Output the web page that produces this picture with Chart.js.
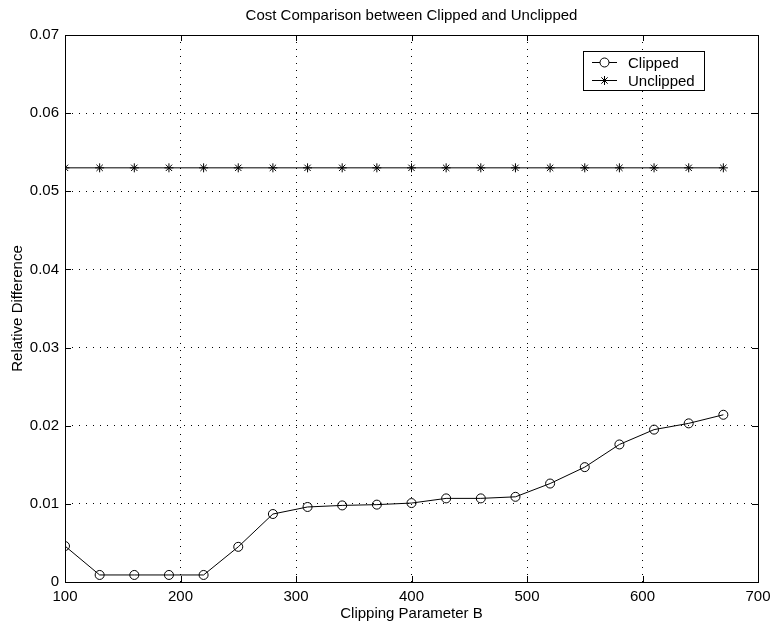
<!DOCTYPE html>
<html>
<head>
<meta charset="utf-8">
<script src="https://cdn.jsdelivr.net/npm/chart.js@4/dist/chart.umd.min.js"></script>
<style>
	html, body { margin: 0; padding: 0; background: #fff; }
	#wrap { width: 772px; height: 621px; }
</style>
</head>
<body>
<div id="wrap"><canvas id="chart"></canvas></div>
<script>
// Clipping parameter B (x)
const bValues = [100, 130, 160, 190, 220, 250, 280, 310, 340, 370, 400, 430, 460, 490, 520, 550, 580, 610, 640, 670];
// Relative difference (y)
const clippedDiff = [0.0046, 0.0009, 0.0009, 0.0009, 0.0009, 0.0045, 0.0087, 0.0096, 0.0098, 0.0099,
	0.0101, 0.0107, 0.0107, 0.0109, 0.0126, 0.0147, 0.0176, 0.0195, 0.0203, 0.0214];
const unclippedDiff = [0.053, 0.053, 0.053, 0.053, 0.053, 0.053, 0.053, 0.053, 0.053, 0.053,
	0.053, 0.053, 0.053, 0.053, 0.053, 0.053, 0.053, 0.053, 0.053, 0.053];
const seriesNames = ["Clipped", "Unclipped"];
const xTicks = [100, 200, 300, 400, 500, 600, 700];
const yTicks = [0, 0.01, 0.02, 0.03, 0.04, 0.05, 0.06, 0.07];

const FONT = "'Liberation Sans', Arial, Helvetica, sans-serif";
const FS = 15;

function toPoints(ys) {
	return bValues.map((b, i) => ({ x: b, y: ys[i] }));
}

// box around the axes with inward ticks on all four sides, matlab style
const frame = {
	id: "frame",
	afterDraw(chart) {
		const ctx = chart.ctx;
		const a = chart.chartArea;
		const xs = chart.scales.x, ys = chart.scales.y;
		const len = 6;
		ctx.save();
		ctx.strokeStyle = "#000";
		ctx.lineWidth = 1;
		ctx.beginPath();
		xTicks.forEach(v => {
			const px = Math.round(xs.getPixelForValue(v)) + 0.5;
			ctx.moveTo(px, a.bottom); ctx.lineTo(px, a.bottom - len);
			ctx.moveTo(px, a.top); ctx.lineTo(px, a.top + len);
		});
		yTicks.forEach(v => {
			const py = Math.round(ys.getPixelForValue(v)) + 0.5;
			ctx.moveTo(a.left, py); ctx.lineTo(a.left + len, py);
			ctx.moveTo(a.right, py); ctx.lineTo(a.right - len, py);
		});
		ctx.stroke();
		ctx.strokeRect(Math.round(a.left) + 0.5, Math.round(a.top) + 0.5,
			Math.round(a.right - a.left), Math.round(a.bottom - a.top));
		ctx.restore();
	}
};

// legend box in the upper right of the plot
const boxLegend = {
	id: "boxLegend",
	afterDraw(chart) {
		const ctx = chart.ctx;
		const a = chart.chartArea;
		const right = a.right - 54, top = a.top + 16;
		const w = 121, h = 39;
		const left = right - w;
		ctx.save();
		ctx.fillStyle = "#fff";
		ctx.fillRect(left, top, w, h);
		ctx.strokeStyle = "#000";
		ctx.lineWidth = 1;
		ctx.strokeRect(left + 0.5, top + 0.5, w, h);
		ctx.font = FS + "px " + FONT;
		ctx.textBaseline = "middle";
		chart.data.datasets.forEach((ds, i) => {
			const y = Math.round(top + 11 + i * 18) + 0.5;
			ctx.strokeStyle = "#000";
			ctx.beginPath();
			ctx.moveTo(left + 9, y);
			ctx.lineTo(left + 34, y);
			ctx.stroke();
			Chart.helpers.drawPoint(ctx, {
				pointStyle: ds.pointStyle,
				radius: ds.pointRadius,
				borderWidth: 1,
				rotation: 0
			}, left + 21.5, y);
			ctx.fillStyle = "#000";
			ctx.fillText(ds.label, left + 45, y + 1);
		});
		ctx.restore();
	}
};

const ctx = document.getElementById("chart").getContext("2d");
new Chart(ctx, {
	type: "line",
	data: {
		datasets: [{
			label: seriesNames[0],
			data: toPoints(clippedDiff),
			borderColor: "#000",
			borderWidth: 1,
			backgroundColor: "rgba(0,0,0,0)",
			pointStyle: "circle",
			pointRadius: 4.5,
			pointBorderColor: "#000",
			pointBackgroundColor: "rgba(0,0,0,0)",
			pointBorderWidth: 1,
			tension: 0
		}, {
			label: seriesNames[1],
			data: toPoints(unclippedDiff),
			borderColor: "#000",
			borderWidth: 1,
			backgroundColor: "rgba(0,0,0,0)",
			pointStyle: "star",
			pointRadius: 4.5,
			pointBorderColor: "#000",
			pointBorderWidth: 1,
			tension: 0
		}]
	},
	options: {
		responsive: true,
		maintainAspectRatio: false,
		animation: false,
		events: [],
		layout: { padding: { left: 0, right: 14, top: 0, bottom: 0 } },
		scales: {
			x: {
				type: "linear",
				min: 100,
				max: 700,
				afterBuildTicks: scale => { scale.ticks = xTicks.map(v => ({ value: v })); },
				afterFit: scale => {
					scale.height = 39;
					scale.paddingLeft = 0;
					scale.paddingRight = 0;
				},
				grid: { color: "#000", lineWidth: 1, drawTicks: false },
				border: { display: false, dash: [1, 6] },
				ticks: {
					color: "#000",
					padding: 7,
					font: { family: FONT, size: FS, lineHeight: 1 },
					callback: v => String(v)
				},
				title: {
					display: true,
					text: "Clipping Parameter B",
					color: "#000",
					font: { family: FONT, size: FS, lineHeight: 1 },
					padding: { top: 0, bottom: 0 }
				}
			},
			y: {
				type: "linear",
				min: 0,
				max: 0.07,
				afterBuildTicks: scale => { scale.ticks = yTicks.map(v => ({ value: v })); },
				afterFit: scale => {
					scale.width = 65;
					scale.paddingTop = 0;
					scale.paddingBottom = 0;
				},
				grid: { color: "#000", lineWidth: 1, drawTicks: false },
				border: { display: false, dash: [1, 6] },
				ticks: {
					color: "#000",
					padding: 6,
					font: { family: FONT, size: FS },
					callback: v => v === 0 ? "0" : v.toFixed(2)
				},
				title: {
					display: true,
					text: "Relative Difference",
					color: "#000",
					font: { family: FONT, size: FS, lineHeight: 1 },
					padding: { top: 10, bottom: 0 }
				}
			}
		},
		plugins: {
			legend: { display: false },
			tooltip: { enabled: false },
			title: {
				display: true,
				fullSize: false,
				text: "Cost Comparison between Clipped and Unclipped",
				color: "#000",
				font: { family: FONT, size: FS, weight: "normal", lineHeight: 1 },
				padding: { top: 8, bottom: 12 }
			}
		}
	},
	plugins: [frame, boxLegend]
});
</script>
</body>
</html>
